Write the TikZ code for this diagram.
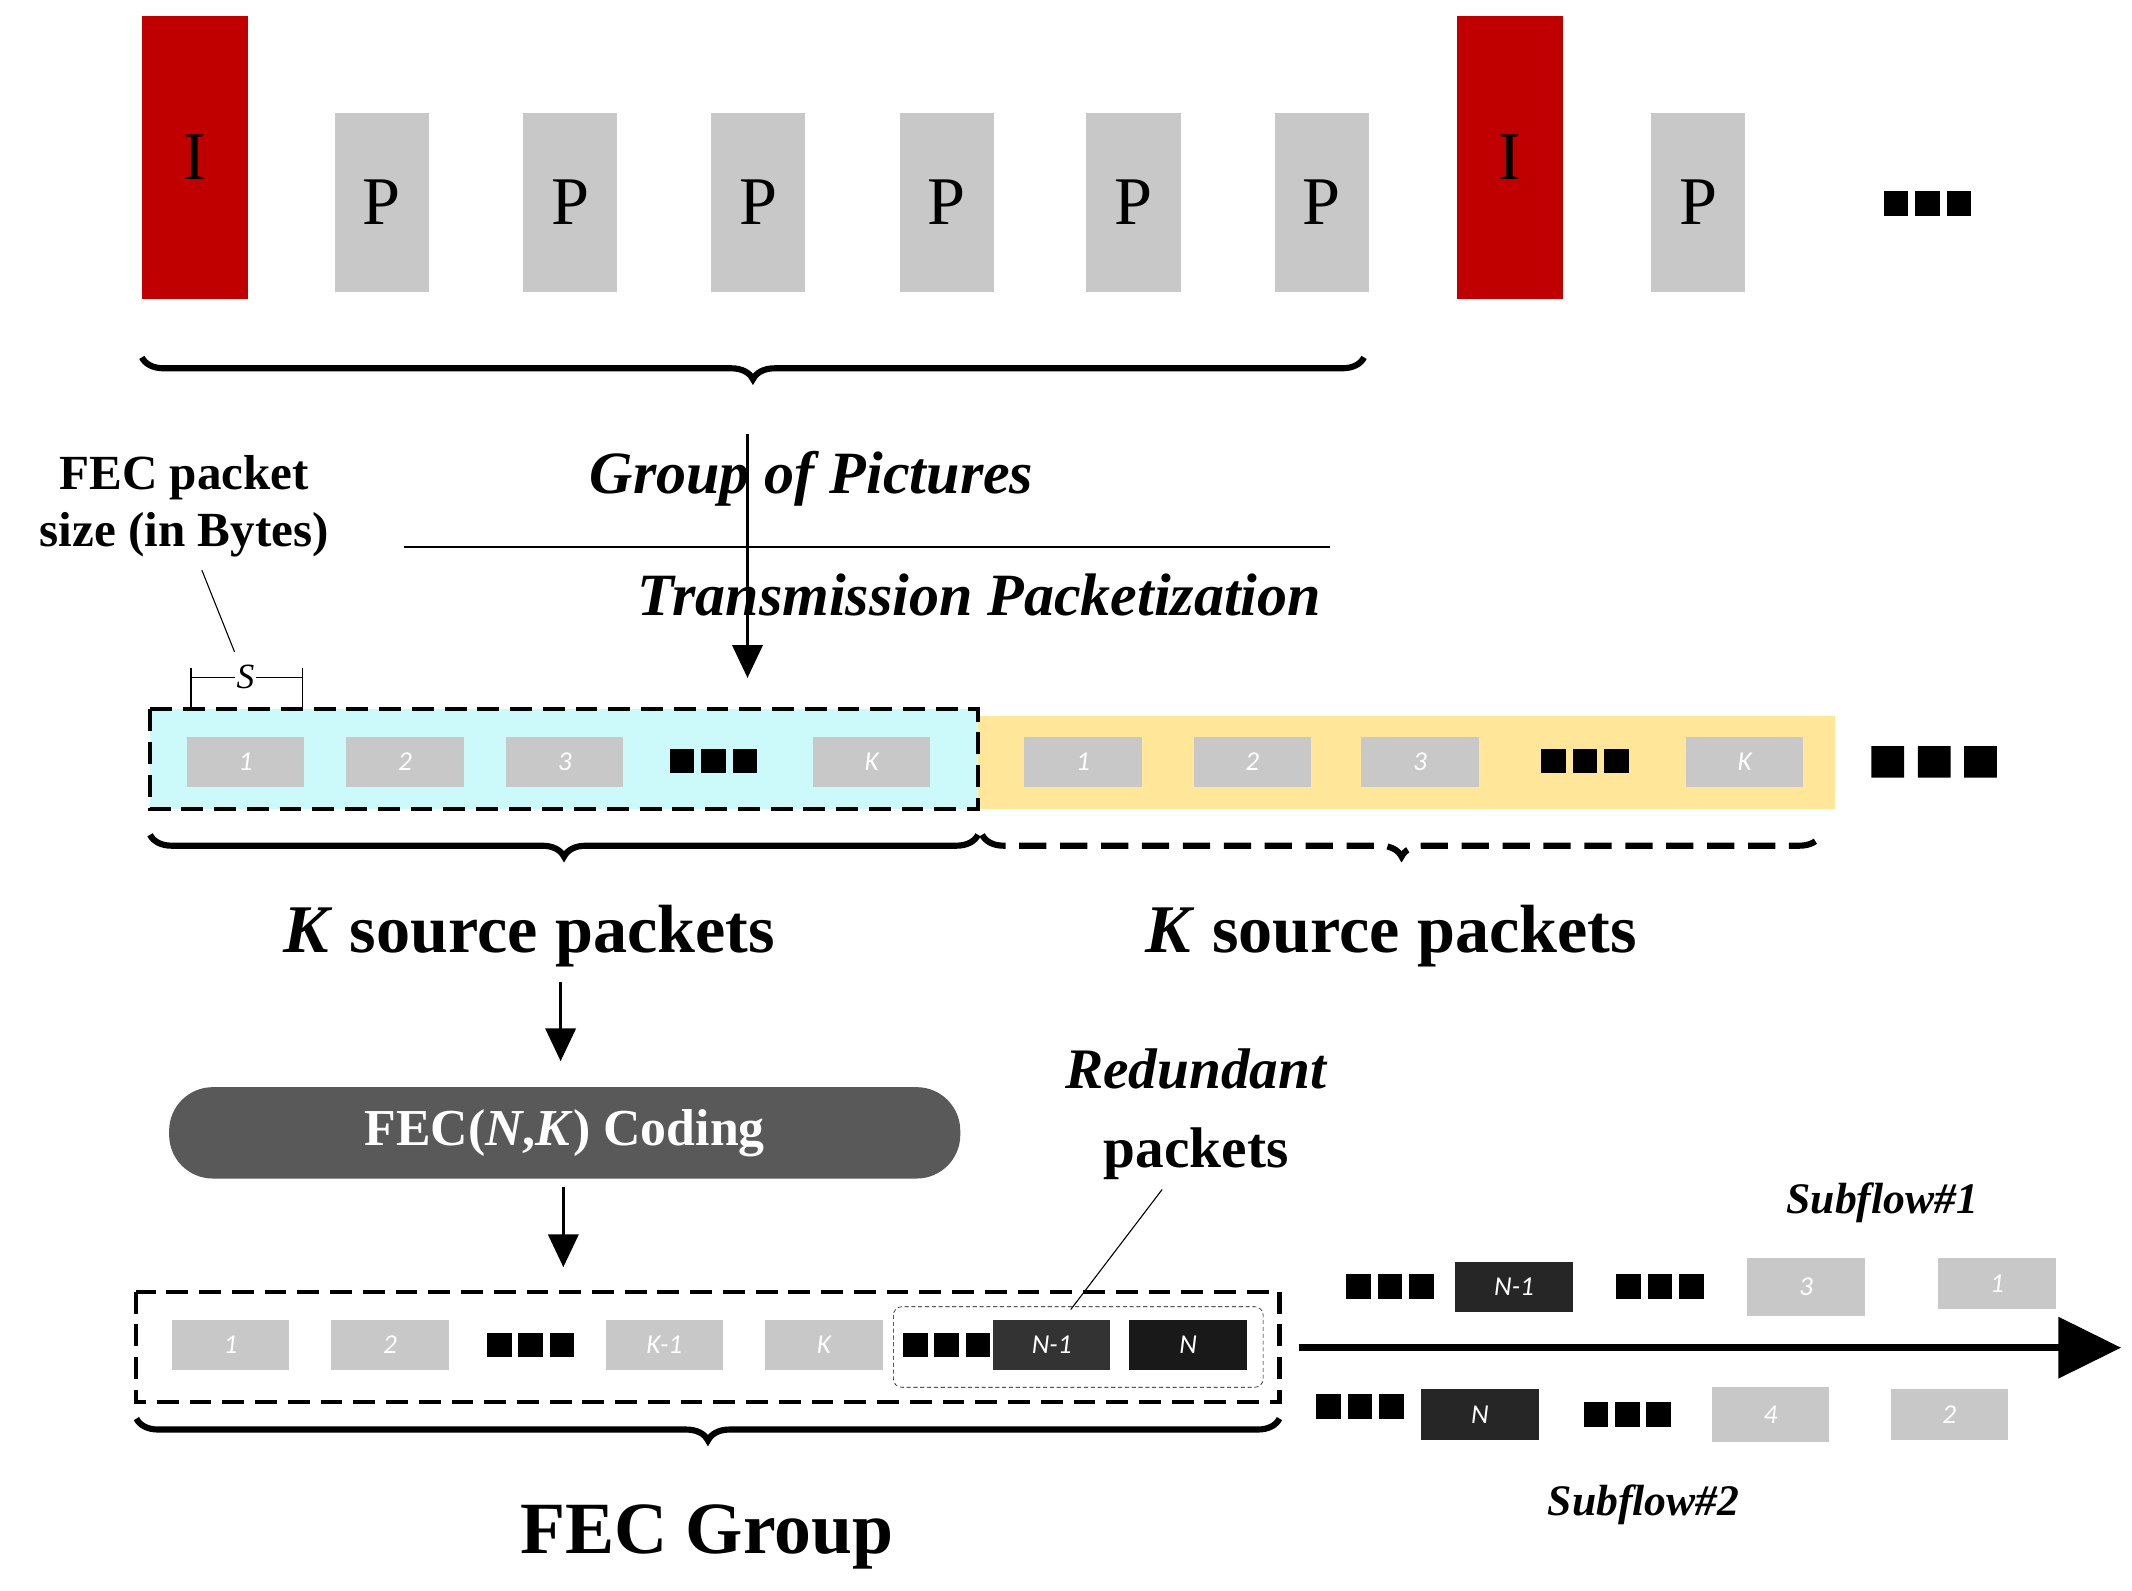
\documentclass[tikz,border=0pt]{standalone}
\usepackage{fontspec}
\setmainfont{Liberation Serif}
\newfontfamily\carl{Carlito}
\usetikzlibrary{decorations.pathreplacing,arrows.meta}
\definecolor{fred}{HTML}{C00000}
\definecolor{pgray}{HTML}{C8C8C8}
\definecolor{cy}{HTML}{CCFAFA}
\definecolor{ye}{HTML}{FFE699}
\definecolor{dk}{HTML}{595959}
\newcommand{\sqd}[2]{\foreach \k in {0,1,2}{\fill (#1+\k*23-30,#2-9) rectangle ++(18,18);}}
\begin{document}
\begin{tikzpicture}[x=1pt,y=-1pt,
 frame/.style={minimum width=69pt,minimum height=131pt,inner sep=0,font=\fontsize{50}{50}\selectfont},
 pk/.style={fill=pgray,minimum width=86pt,minimum height=37pt,inner sep=0,text=white,font=\carl\itshape\fontsize{20}{20}\selectfont},
 br/.style={decorate,decoration={brace,mirror,amplitude=16pt},line width=4.5pt},
 arr/.style={-{Triangle[length=24pt,width=22pt]},line width=2.5pt},
 big/.style={font=\bfseries\fontsize{50}{50}\selectfont}]
\useasboundingbox (0,0) rectangle (1563,1166);
% frames
\node[frame,fill=fred,minimum width=78pt,minimum height=207pt] (i1) at (143,115.5) {I};
\foreach \x/\n in {280/p1,418/p2,556/p3,694/p4,831/p5,969/p6,1245/p8}
  \node[frame,fill=pgray] (\n) at (\x,148.5) {P};
\node[frame,fill=fred,minimum width=78pt,minimum height=207pt] (i2) at (1107,115.5) {I};
\sqd{1411}{149}
\draw[br] (104,262) -- (1000,262);
\coordinate (gtop) at (548,318);
\coordinate (gbot) at (548,497);
\node[big,font=\bfseries\itshape\fontsize{44}{44}\selectfont] (gop) at (595,351) {Group of Pictures};
\draw[line width=2pt] (296,401) -- (975,401);
\node[big,font=\bfseries\itshape\fontsize{44}{44}\selectfont] (tp) at (718,436) {Transmission Packetization};
\draw[arr] (gtop) -- (gbot);
\node[align=center,font=\bfseries\fontsize{36}{42}\selectfont] (fps) at (135,371) {FEC packet\\size (in Bytes)};
\draw[thick] (148,418) -- (172,478);
\draw[thick] (140,497) -- (222,497);
\draw[thick] (140,490) -- (140,530) (222,490) -- (222,530);
\node[fill=white,inner sep=1pt,font=\itshape\fontsize{26}{26}\selectfont] (s) at (180,496) {S};
% source rows
\fill[ye] (717,525) rectangle (1345,593);
\fill[cy] (110,520) rectangle (717,593);
\draw[line width=3pt,dash pattern=on 16pt off 8pt] (110,520) rectangle (717,593);
\foreach \x/\t/\n in {180/1/a1,297/2/a2,414/3/a3,639/K/aK,794/1/b1,918/2/b2,1041/3/b3,1279/K/bK}
  \node[pk] (\n) at (\x,558.5) {\t};
\sqd{521}{558}\sqd{1160}{558}
\fill (1372,547) rectangle ++(24,23) (1406,547) rectangle ++(24,23) (1440,547) rectangle ++(24,23);
\draw[br] (110,612) -- (717,612);
\draw[br,dash pattern=on 20pt off 10pt] (720,612) -- (1335,612);
\node[big] (k1) at (388,686) {\textit{K} source packets};
\node[big] (k2) at (1020,686) {\textit{K} source packets};
\coordinate (a1t) at (411,720); \coordinate (a1b) at (411,778);
\draw[arr] (a1t) -- (a1b);
\node[fill=dk,rounded corners=32pt,minimum width=580pt,minimum height=67pt,text=white,font=\bfseries\fontsize{38}{38}\selectfont] (fec) at (414,830.5) {FEC(\textit{N},\textit{K}) Coding};
\coordinate (a2t) at (413,870); \coordinate (a2b) at (413,929);
\draw[arr] (a2t) -- (a2b);
\node[big,align=center,font=\bfseries\fontsize{42}{58}\selectfont] (red) at (877,817) {\textit{Redundant}\\packets};
% FEC group
\draw[line width=3pt,dash pattern=on 16pt off 8pt] (100,947) rectangle (938,1028);
\foreach \x/\t/\n in {169/1/c1,286/2/c2,487/K-1/c3,604/K/c4}
  \node[pk] (\n) at (\x,986) {\t};
\node[pk,fill=black!80] (c5) at (771,986) {N-1};
\node[pk,fill=black!90] (c6) at (871,986) {N};
\sqd{387}{986}\sqd{692}{986}
\draw[thin,dash pattern=on 3pt off 2pt,rounded corners=6pt] (655,958) rectangle (926,1017);
\draw[thick] (852,872) -- (785,960);
\draw[br] (100,1040) -- (938,1040);
\node[big,font=\bfseries\fontsize{54}{54}\selectfont] (fg) at (518,1127) {FEC Group};
% subflows
\coordinate (st) at (952,988); \coordinate (se) at (1555,988);
\draw[line width=5pt,-{Triangle[length=46pt,width=44pt]}] (st) -- (se);
\node[font=\bfseries\itshape\fontsize{32}{32}\selectfont] (sf1) at (1380,882) {Subflow\#1};
\node[font=\bfseries\itshape\fontsize{32}{32}\selectfont] (sf2) at (1205,1103) {Subflow\#2};
\sqd{1017}{943}\sqd{1215}{943}
\node[pk,fill=black!85] (u1) at (1110,943.5) {N-1};
\node[pk,minimum height=43pt] (u2) at (1324,943.5) {3};
\node[pk,minimum height=38pt] (u3) at (1464,941) {1};
\sqd{995}{1031}\sqd{1191}{1037}
\node[pk,fill=black!85] (d1) at (1085,1037) {N};
\node[pk,minimum height=40pt] (d2) at (1298,1037) {4};
\node[pk] (d3) at (1429,1037) {2};
\end{tikzpicture}
\end{document}
